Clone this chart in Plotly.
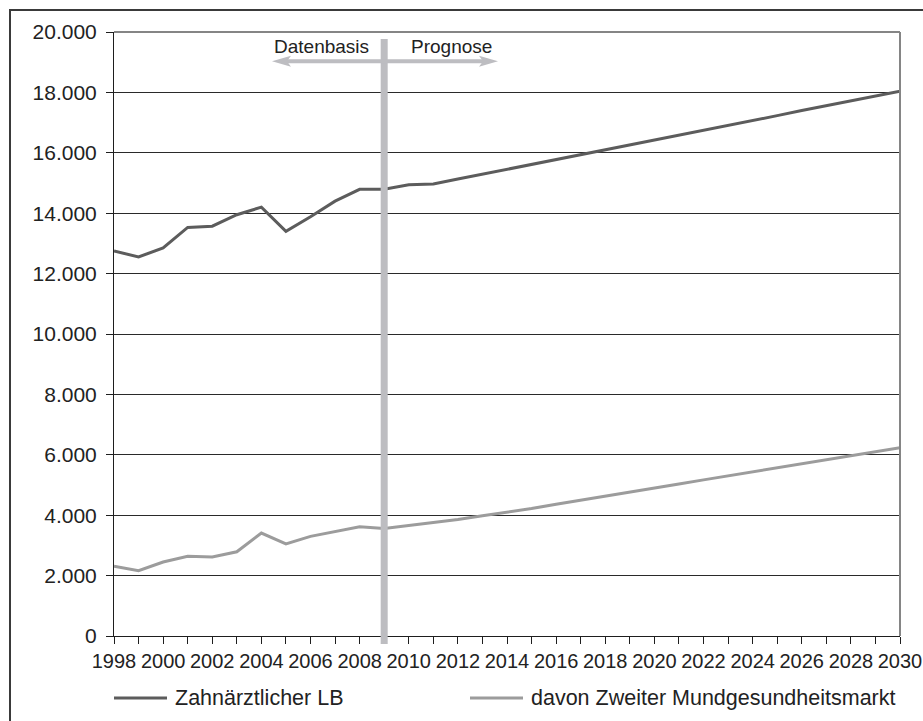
import plotly.graph_objects as go

# Years and series values
years = list(range(1998, 2031))

zahnaerztlicher_lb = [
    12750, 12550, 12850, 13530, 13570, 13950, 14200, 13400, 13880, 14400,
    14790, 14790, 14940, 14970, 15130, 15290, 15450, 15610, 15770, 15940,
    16100, 16260, 16420, 16580, 16750, 16910, 17070, 17230, 17400, 17560,
    17720, 17880, 18040,
]

zweiter_markt = [
    2310, 2160, 2450, 2640, 2620, 2790, 3410, 3050, 3300, 3450,
    3620, 3560, 3660, 3740, 3860, 3980, 4090, 4220, 4360, 4490,
    4630, 4760, 4900, 5030, 5170, 5300, 5430, 5570, 5700, 5830,
    5970, 6100, 6230,
]

series_names = ["Zahnärztlicher LB", "davon Zweiter Mundgesundheitsmarkt"]
series_colors = ["#5c5c5c", "#9c9c9c"]
split_year = 2009
phase_labels = ["Datenbasis", "Prognose"]

# Figure geometry (pixels)
W, H = 923, 721
PL, PT, PR, PB = 114, 32, 900, 636
PW, PH = PR - PL, PB - PT


def px(x):
    return (x - PL) / PW


def py(y):
    return (PB - y) / PH


FONT = "Liberation Sans, Arial, Helvetica, sans-serif"
TXT = "#222222"
MARK_GREY = "#bdbdc1"

fig = go.Figure()
for name, vals, col in zip(series_names, [zahnaerztlicher_lb, zweiter_markt], series_colors):
    fig.add_trace(go.Scatter(
        x=years, y=vals, mode="lines", name=name,
        line=dict(color=col, width=3), showlegend=False,
    ))

shapes = []
# vertical separator between observed data and forecast
shapes.append(dict(type="line", xref="x", yref="paper", x0=split_year, x1=split_year,
                   y0=py(644), y1=py(39), line=dict(color=MARK_GREY, width=7), layer="above"))
# double-headed arrow under the phase labels
ay = 61.3
shapes.append(dict(type="line", xref="paper", yref="paper", x0=px(285), x1=px(485),
                   y0=py(ay), y1=py(ay), line=dict(color=MARK_GREY, width=4), layer="above"))
for tip, d in [(272, 1), (498, -1)]:
    path = (f"M {px(tip)},{py(ay)} L {px(tip + d*19)},{py(ay - 5.5)} "
            f"L {px(tip + d*15)},{py(ay)} L {px(tip + d*19)},{py(ay + 5.5)} Z")
    shapes.append(dict(type="path", xref="paper", yref="paper", path=path,
                       fillcolor=MARK_GREY, line=dict(width=0), layer="above"))
# plot frame: top and right edges
shapes.append(dict(type="line", xref="paper", yref="paper", x0=0, x1=1, y0=1, y1=1,
                   line=dict(color="#858585", width=2), layer="above"))
shapes.append(dict(type="line", xref="paper", yref="paper", x0=1, x1=1, y0=0, y1=1,
                   line=dict(color="#858585", width=2), layer="above"))
# outer border
shapes.append(dict(type="line", xref="paper", yref="paper", x0=px(9), x1=px(930),
                   y0=py(10), y1=py(10), line=dict(color="#3a3a3a", width=2)))
shapes.append(dict(type="line", xref="paper", yref="paper", x0=px(10), x1=px(10),
                   y0=py(10), y1=py(730), line=dict(color="#3a3a3a", width=2)))

annotations = []
for label, cx in zip(phase_labels, [321.5, 451]):
    annotations.append(dict(text=label, xref="paper", yref="paper", x=px(cx), y=py(46.5),
                            xanchor="center", yanchor="middle", showarrow=False,
                            font=dict(family=FONT, size=19, color=TXT)))

# legend drawn as line samples with text
for name, col, lx in zip(series_names, series_colors, [114, 470]):
    shapes.append(dict(type="line", xref="paper", yref="paper", x0=px(lx), x1=px(lx + 53),
                       y0=py(698), y1=py(698), line=dict(color=col, width=3)))
    annotations.append(dict(text=name, xref="paper", yref="paper", x=px(lx + 59), y=py(698),
                            xanchor="left", yanchor="middle", showarrow=False,
                            font=dict(family=FONT, size=21.5, color=TXT)))

fig.update_layout(
    width=W, height=H,
    margin=dict(l=PL, r=W - PR, t=PT, b=H - PB, autoexpand=False),
    paper_bgcolor="white", plot_bgcolor="white",
    separators=",.",
    font=dict(family=FONT, color=TXT),
    shapes=shapes, annotations=annotations,
)

fig.update_xaxes(
    range=[1998, 2030], dtick=2, tick0=1998, automargin=False,
    showgrid=False, zeroline=False,
    showline=True, linecolor="#1e1e1e", linewidth=1,
    ticks="outside", ticklen=7, tickcolor="#1e1e1e", tickwidth=1,
    minor=dict(dtick=1, ticks="outside", ticklen=7, tickcolor="#1e1e1e", tickwidth=1, showgrid=False),
    tickfont=dict(family=FONT, size=20, color=TXT),
    fixedrange=True,
)
fig.update_yaxes(
    range=[0, 20000], dtick=2000, tick0=0, tickformat=",d", automargin=False,
    showgrid=True, gridcolor="#2a2a2a", gridwidth=1, zeroline=False,
    showline=True, linecolor="#1e1e1e", linewidth=1,
    ticks="outside", ticklen=7, tickcolor="#1e1e1e", tickwidth=1,
    tickfont=dict(family=FONT, size=21, color=TXT),
    ticklabelstandoff=5,
    fixedrange=True,
)

fig.write_html("out.html")
